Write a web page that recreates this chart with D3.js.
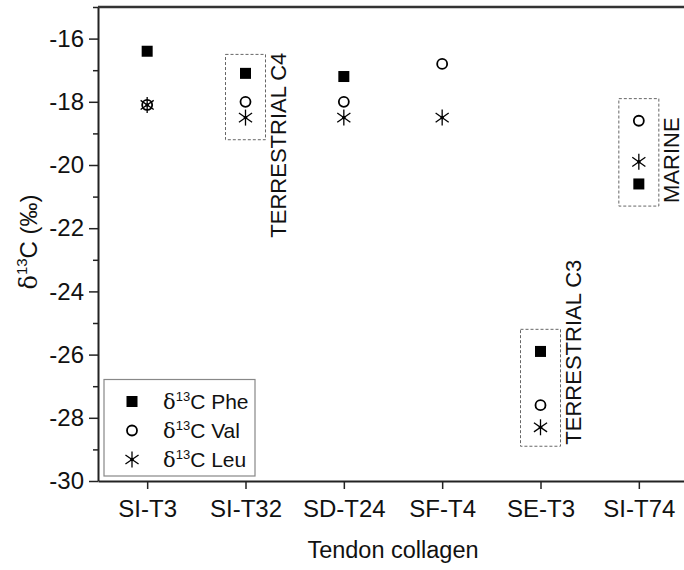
<!DOCTYPE html>
<html>
<head>
<meta charset="utf-8">
<script src="https://cdn.jsdelivr.net/npm/d3@7"></script>
<style>
    body { margin: 0; background: #fff; }
    svg { display: block; font-family: "Liberation Sans", Arial, sans-serif; }
</style>
</head>
<body>
<svg id="chart"></svg>
<script>
const width = 684, height = 570
const margin = {top: 7, right: -4, bottom: 88, left: 98}

// data
const samples = ["SI-T3", "SI-T32", "SD-T24", "SF-T4", "SE-T3", "SI-T74"]
const phe = [-16.4, -17.1, -17.2, null, -25.9, -20.6]
const val = [-18.1, -18.0, -18.0, -16.8, -27.6, -18.6]
const leu = [-18.1, -18.5, -18.5, -18.5, -28.3, -19.9]
const yTicks = [-30, -28, -26, -24, -22, -20, -18, -16]
const yMinor = [-29, -27, -25, -23, -21, -19, -17, -15]

// dashed groups
const groupSamples = ["SI-T32", "SE-T3", "SI-T74"]
const groupTop = [-16.5, -25.2, -17.9]
const groupBottom = [-19.2, -28.9, -21.3]
const groupLabels = ["TERRESTRIAL C4", "TERRESTRIAL C3", "MARINE"]
const groupLabelY = [-22.3, -28.85, -21.2]

const seriesNames = ["Phe", "Val", "Leu"]

const svg = d3.select("svg#chart")
    .attr("width", width)
    .attr("height", height)

const xScale = d3.scalePoint()
    .domain(samples)
    .range([margin.left, width - margin.right])
    .padding(0.5)

const yScale = d3.scaleLinear()
    .domain([-30, -15])
    .range([height - margin.bottom - 1, margin.top])

const axisColor = "#222"

// symbols
function drawSymbol(g, type, x, y) {
    if (type === "Phe") {
        g.append("rect")
            .attr("x", x - 5.5).attr("y", y - 5.5)
            .attr("width", 11).attr("height", 11)
            .attr("fill", "#000")
    } else if (type === "Val") {
        g.append("circle")
            .attr("cx", x).attr("cy", y).attr("r", 5)
            .attr("fill", "none")
            .attr("stroke", "#000")
            .attr("stroke-width", 1.8)
    } else {
        const r = 8
        const star = g.append("g").attr("transform", `translate(${x},${y})`)
        for (const a of [90, 35, -35]) {
            const rad = a * Math.PI / 180
            star.append("line")
                .attr("x1", -r * Math.cos(rad)).attr("y1", -r * Math.sin(rad))
                .attr("x2", r * Math.cos(rad)).attr("y2", r * Math.sin(rad))
                .attr("stroke", "#000")
                .attr("stroke-width", 1.3)
        }
        star.append("circle").attr("r", 1.8).attr("fill", "#000")
    }
}

// dashed boxes
const boxes = svg.append("g").classed("groups", true)
groupSamples.forEach((s, i) => {
    const cx = xScale(s)
    boxes.append("rect")
        .attr("x", cx - 20)
        .attr("y", yScale(groupTop[i]))
        .attr("width", 40)
        .attr("height", yScale(groupBottom[i]) - yScale(groupTop[i]))
        .attr("fill", "none")
        .attr("stroke", "#666")
        .attr("stroke-width", 1)
        .attr("stroke-dasharray", "3,2")
    boxes.append("text")
        .attr("transform", `translate(${cx + 40},${yScale(groupLabelY[i])}) rotate(-90)`)
        .attr("font-size", 22)
        .attr("fill", "#111")
        .text(groupLabels[i])
})

// points
const points = svg.append("g").classed("points", true)
const allSeries = [phe, val, leu]
allSeries.forEach((arr, k) => {
    arr.forEach((v, i) => {
        if (v === null) return
        drawSymbol(points, seriesNames[k], xScale(samples[i]), yScale(v))
    })
})

// Y axis
const yAxis = svg.append("g").classed("y-axis", true)
    .attr("transform", `translate(${margin.left}, 0)`)
    .call(d3.axisLeft(yScale).tickValues(yTicks).tickSize(9).tickPadding(5).tickSizeOuter(0))
yAxis.selectAll(".tick text")
    .attr("font-size", 24)
    .attr("fill", "#111")
    .text(d => String(d))
const yMinorAxis = svg.append("g").classed("y-minor", true)
    .attr("transform", `translate(${margin.left}, 0)`)
    .call(d3.axisLeft(yScale).tickValues(yMinor).tickSize(5).tickFormat(() => "").tickSizeOuter(0))
yMinorAxis.select(".domain").remove()
svg.selectAll(".y-axis line, .y-minor line").attr("stroke", axisColor).attr("stroke-width", 1.5)
yAxis.select(".domain").attr("stroke", axisColor).attr("stroke-width", 2)

// X axis
const xAxis = svg.append("g").classed("x-axis", true)
    .attr("transform", `translate(0, ${height - margin.bottom - 1})`)
    .call(d3.axisBottom(xScale).tickSize(8).tickPadding(11).tickSizeOuter(0))
xAxis.selectAll("text").attr("font-size", 24).attr("fill", "#111")
xAxis.selectAll("line").attr("stroke", axisColor).attr("stroke-width", 1.5)
xAxis.select(".domain").attr("stroke", axisColor).attr("stroke-width", 2)

// top frame line
svg.append("line")
    .attr("x1", margin.left).attr("x2", width)
    .attr("y1", margin.top).attr("y2", margin.top)
    .attr("stroke", "#333")
    .attr("stroke-width", 2.5)

// axis titles
svg.append("text")
    .attr("x", (margin.left + width - margin.right) / 2)
    .attr("y", 558)
    .attr("text-anchor", "middle")
    .attr("font-size", 23.5)
    .attr("fill", "#111")
    .text("Tendon collagen")

const yTitle = svg.append("text")
    .attr("transform", "translate(37, 242) rotate(-90)")
    .attr("text-anchor", "middle")
    .attr("font-size", 24)
    .attr("fill", "#111")
yTitle.append("tspan").attr("font-family", "DejaVu Serif, serif").text("δ")
yTitle.append("tspan").attr("font-size", 15).attr("dy", -10).text("13")
yTitle.append("tspan").attr("dy", 10).text("C (‰)")

// legend
const legend = svg.append("g").classed("legend", true)
legend.append("rect")
    .attr("x", 104).attr("y", 379.5)
    .attr("width", 151).attr("height", 96.5)
    .attr("fill", "#fff")
    .attr("stroke", "#888")
    .attr("stroke-width", 1.2)
seriesNames.forEach((name, i) => {
    const ly = 401.5 + i * 29
    drawSymbol(legend, name, 132, ly)
    const t = legend.append("text")
        .attr("x", 163).attr("y", ly + 7.5)
        .attr("font-size", 21)
        .attr("fill", "#111")
    t.append("tspan").attr("font-family", "DejaVu Serif, serif").text("δ")
    t.append("tspan").attr("font-size", 13).attr("dy", -8).text("13")
    t.append("tspan").attr("dy", 8).text("C " + name)
})
</script>
</body>
</html>
